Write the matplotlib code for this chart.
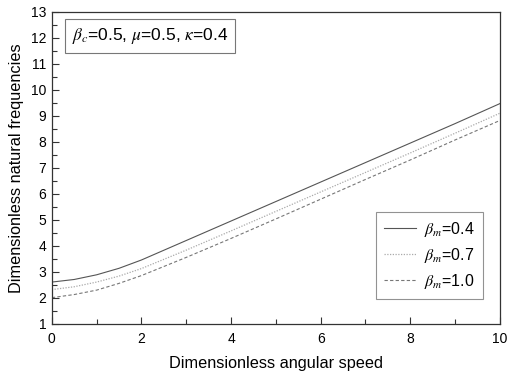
import matplotlib
matplotlib.use("Agg")
import matplotlib.pyplot as plt
from matplotlib.ticker import MultipleLocator

plt.rcParams['font.family'] = ['Liberation Sans', 'DejaVu Sans']
plt.rcParams['mathtext.fontset'] = 'stix'

speed = [0, 0.5, 1, 1.5, 2, 3, 4, 5, 6, 7, 8, 9, 10]
freq_b04 = [2.6, 2.7, 2.88, 3.13, 3.45, 4.2, 4.95, 5.7, 6.45, 7.2, 7.95, 8.7, 9.47]
freq_b07 = [2.31, 2.42, 2.6, 2.83, 3.12, 3.83, 4.57, 5.32, 6.07, 6.82, 7.57, 8.33, 9.1]
freq_b10 = [2.0, 2.12, 2.29, 2.55, 2.85, 3.55, 4.28, 5.03, 5.79, 6.55, 7.3, 8.07, 8.82]
labels = [r'$\beta_m$=0.4', r'$\beta_m$=0.7', r'$\beta_m$=1.0']

fig = plt.figure(figsize=(5.08, 3.72), dpi=100)
ax = fig.add_axes([0.102, 0.130, 0.882, 0.838])

ax.plot(speed, freq_b04, color='#555555', lw=0.8, ls='-', label=labels[0])
ax.plot(speed, freq_b07, color='#aaaaaa', lw=0.9, ls=(0, (1, 1.2)), label=labels[1])
ax.plot(speed, freq_b10, color='#777777', lw=0.8, ls=(0, (3, 2)), label=labels[2])

ax.set_xlim(0, 10)
ax.set_ylim(1, 13)
ax.xaxis.set_major_locator(MultipleLocator(2))
ax.xaxis.set_minor_locator(MultipleLocator(1))
ax.yaxis.set_major_locator(MultipleLocator(1))
ax.yaxis.set_minor_locator(MultipleLocator(0.5))
ax.tick_params(which='both', direction='in', top=False, right=False, labelsize=10, color='#333333')
ax.tick_params(which='major', length=5, width=0.8)
ax.tick_params(which='minor', length=3.5, width=0.8)
ax.tick_params(axis='x', pad=6)
ax.tick_params(axis='y', pad=4)
for s in ax.spines.values():
    s.set_linewidth(0.9)
    s.set_color('#333333')

ax.set_xlabel('Dimensionless angular speed', fontsize=11.7, labelpad=7)
ax.set_ylabel('Dimensionless natural frequencies', fontsize=11.7, labelpad=5)

ax.text(0.045, 0.955, r'$\beta_c$=0.5, $\mu$=0.5, $\kappa$=0.4', transform=ax.transAxes,
        fontsize=12.5, va='top', ha='left',
        bbox=dict(boxstyle='square,pad=0.4', fc='white', ec='#777777', lw=0.8))

leg = ax.legend(loc='lower right', bbox_to_anchor=(0.962, 0.079), fontsize=11.5,
                fancybox=False, edgecolor='#777777', handlelength=2.0,
                handletextpad=0.5, borderpad=0.5, labelspacing=0.45,
                borderaxespad=0)
leg.get_frame().set_linewidth(0.8)

fig.savefig('out.png', dpi=100)
